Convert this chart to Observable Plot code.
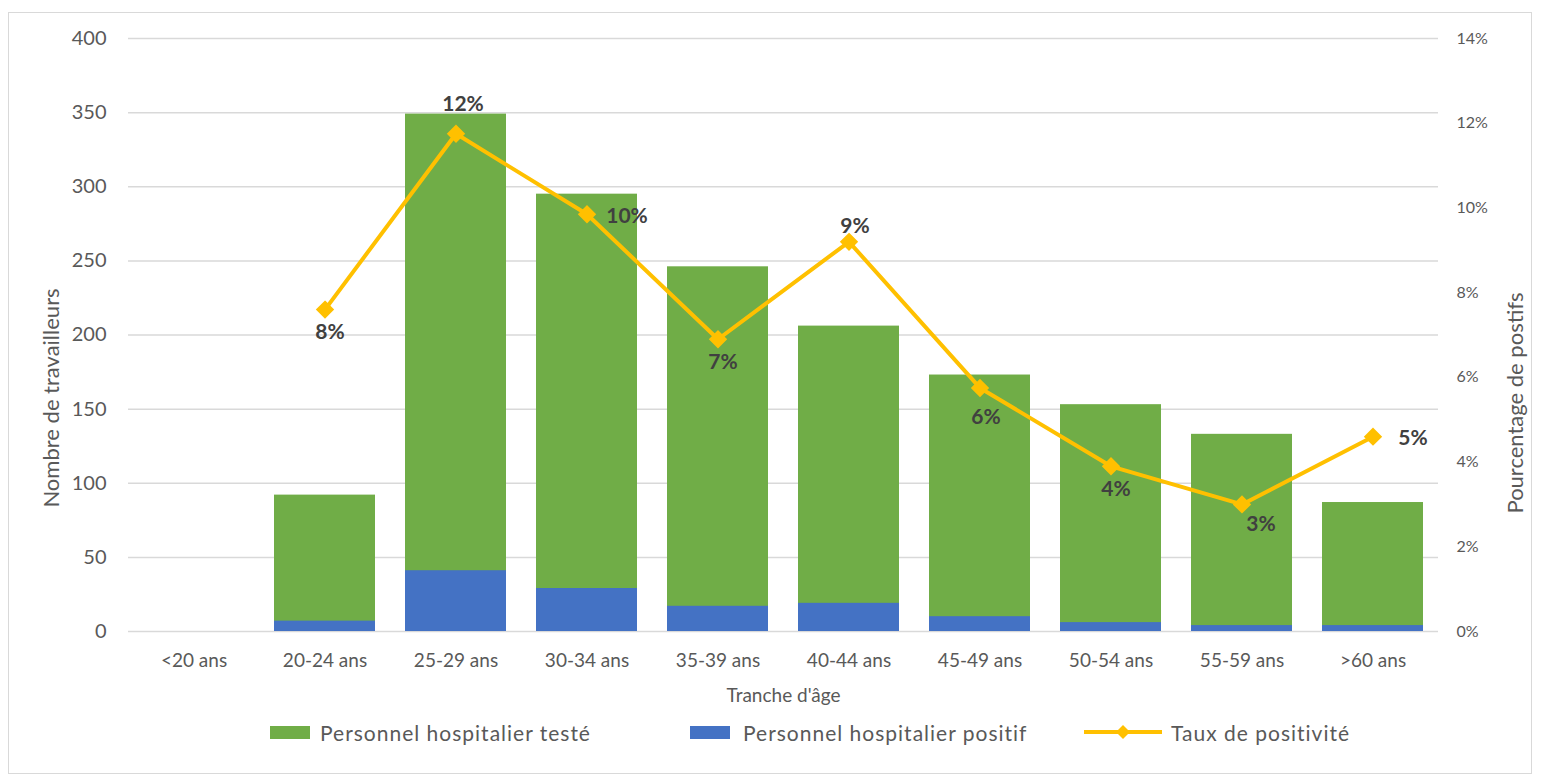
<!DOCTYPE html>
<html>
<head>
<meta charset="utf-8">
<script src="https://cdn.jsdelivr.net/npm/d3@7"></script>
<script src="https://cdn.jsdelivr.net/npm/@observablehq/plot@0.6"></script>
<style>
  html, body { margin: 0; padding: 0; background: #fff; }
  body { font-family: Lato, "Open Sans", sans-serif; }
  #wrap { position: relative; width: 1541px; height: 781px; }
  #border { position: absolute; left: 8px; top: 12px; width: 1524px; height: 762px; border: 1.5px solid #d9d9d9; box-sizing: border-box; }
  #chart { position: absolute; left: 0; top: 0; }
  .leg { position: absolute; top: 718px; height: 28px; display: flex; align-items: center; font-size: 21px; letter-spacing: 1px; color: #595959; white-space: nowrap; }
  .sw { width: 40px; height: 13px; margin-right: 10px; }
</style>
</head>
<body>
<div id="wrap">
  <div id="border"></div>
  <div id="chart"></div>
  <div class="leg" style="left:270px"><div class="sw" style="background:#70AD47"></div><span>Personnel hospitalier testé</span></div>
  <div class="leg" style="left:690px"><div class="sw" style="background:#4472C4;margin-right:13px"></div><span>Personnel hospitalier positif</span></div>
  <div class="leg" style="left:1084px">
    <svg width="78" height="20" style="margin-right:9px"><line x1="0" y1="10" x2="78" y2="10" stroke="#FFC000" stroke-width="4"/><path d="M39,3 L46,10 L39,17 L32,10 Z" fill="#FFC000"/></svg>
    <span>Taux de positivité</span>
  </div>
</div>
<script>
const categories = ["<20 ans", "20-24 ans", "25-29 ans", "30-34 ans", "35-39 ans", "40-44 ans", "45-49 ans", "50-54 ans", "55-59 ans", ">60 ans"];
const tested   = [0, 92, 349, 295, 246, 206, 173, 153, 133, 87];
const positive = [0, 7, 41, 29, 17, 19, 10, 6, 4, 4];
const rates    = [null, 7.6, 11.75, 9.85, 6.9, 9.2, 5.75, 3.9, 3.0, 4.6]; // percent
const rateLabels = ["", "8%", "12%", "10%", "7%", "9%", "6%", "4%", "3%", "5%"];
const labelPlacement = [null, "below", "aboveFar", "right", "below", "above", "belowFar", "below", "belowRight", "right"];
const leftTicks = [0, 50, 100, 150, 200, 250, 300, 350, 400];
const rightTicks = [0, 2, 4, 6, 8, 10, 12, 14];
const rightTickLabels = ["0%", "2%", "4%", "6%", "8%", "10%", "12%", "14%"];
const leftMax = 400, rightMax = 14;

const placements = {
  below:      {dx: 5,  dy: 23},
  belowFar:   {dx: 6,  dy: 29},
  above:      {dx: 6,  dy: -16},
  aboveFar:   {dx: 7,  dy: -30},
  right:      {dx: 40, dy: 2},
  belowRight: {dx: 19, dy: 20}
};

const bars = categories.map((c, i) => ({cat: c, tested: tested[i], positive: positive[i]}));
const toLeft = v => v * leftMax / rightMax;
const pts = categories.map((c, i) => ({cat: c, rate: rates[i], label: rateLabels[i], place: labelPlacement[i]}))
  .filter(d => d.rate != null);

const font = "Lato, 'Open Sans', sans-serif";
const labelMarks = Object.entries(placements).map(([k, o]) =>
  Plot.text(pts.filter(d => d.place === k), {
    x: "cat", y: d => toLeft(d.rate), text: "label", dx: o.dx, dy: o.dy,
    fontSize: 21, fontWeight: "bold", fill: "#404040", textAnchor: "middle", lineAnchor: "middle"
  })
);

const chart = Plot.plot({
  width: 1541,
  height: 706,
  marginTop: 38,
  marginBottom: 75,
  marginLeft: 128,
  marginRight: 103,
  style: {fontFamily: font, fontSize: "20px", color: "#595959", background: "transparent"},
  x: {domain: categories, paddingInner: 0.23, paddingOuter: 0.105},
  y: {domain: [0, leftMax]},
  marks: [
    Plot.gridY(leftTicks, {stroke: "#d9d9d9", strokeOpacity: 1, strokeWidth: 1.5}),
    Plot.barY(bars, {x: "cat", y: "tested", fill: "#70AD47"}),
    Plot.barY(bars, {x: "cat", y: "positive", fill: "#4472C4"}),
    Plot.line(pts, {x: "cat", y: d => toLeft(d.rate), stroke: "#FFC000", strokeWidth: 4, curve: "linear"}),
    Plot.dot(pts, {x: "cat", y: d => toLeft(d.rate), symbol: "diamond2", r: 7, fill: "#FFC000", stroke: "#FFC000", strokeWidth: 2}),
    ...labelMarks,
    Plot.axisY(leftTicks, {anchor: "left", tickSize: 0, tickPadding: 22, fontSize: 20, fill: "#595959",
      label: "Nombre de travailleurs", labelAnchor: "center", labelOffset: 86, labelArrow: "none"}),
    Plot.axisY(rightTicks.map(toLeft), {anchor: "right", tickSize: 0, tickPadding: 18, fontSize: 16, fill: "#595959",
      tickFormat: (d, i) => rightTickLabels[i], textAnchor: "start",
      label: "Pourcentage de postifs", labelAnchor: "center", labelOffset: 90, labelArrow: "none"}),
    Plot.axisX({tickSize: 0, tickPadding: 22, fontSize: 19, fill: "#595959",
      label: "Tranche d'âge", labelAnchor: "center", labelOffset: 70, labelArrow: "none"})
  ]
});

// axis titles: larger type, placed lower as in the reference
const yLabels = chart.querySelectorAll('g[aria-label="y-axis label"]');
const shifts = [[1, 63], [-6, 68]];
yLabels.forEach((g, i) => {
  g.setAttribute("font-size", 22);
  g.querySelectorAll("text").forEach(t => t.setAttribute("font-size", 22));
  const s = shifts[i] || [0, 0];
  g.setAttribute("transform", `translate(${s[0]},${s[1]}) ` + (g.getAttribute("transform") || ""));
});
document.getElementById("chart").appendChild(chart);
</script>
</body>
</html>
